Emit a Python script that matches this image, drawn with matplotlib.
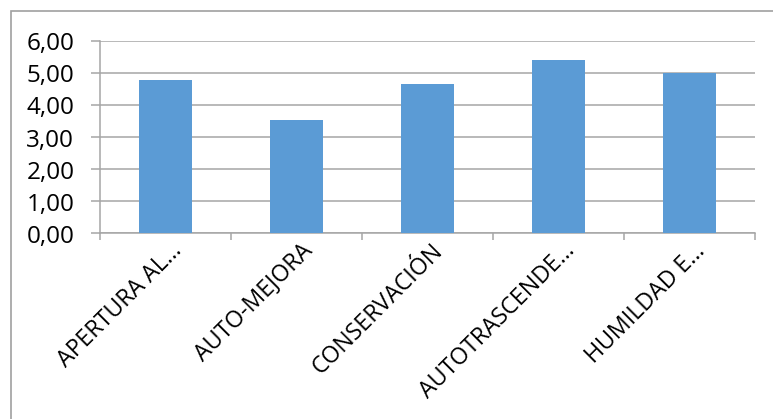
import matplotlib
matplotlib.use("Agg")
import matplotlib.pyplot as plt
from matplotlib.patches import Rectangle
from matplotlib.ticker import FuncFormatter, MultipleLocator
from matplotlib.transforms import ScaledTranslation

categories = ["APERTURA AL…", "AUTO-MEJORA", "CONSERVACIÓN", "AUTOTRASCENDE…", "HUMILDAD E…"]
values = [4.79, 3.55, 4.67, 5.41, 5.02]

plt.rcParams['font.family'] = ['Open Sans', 'DejaVu Sans']

W, H = 773, 419
fig = plt.figure(figsize=(W/100, H/100), dpi=100)
ax = fig.add_axes([100/W, 1-233.5/H, 655/W, 192/H])

grid_c = "#A6A6A6"
lw = 1.1
x = list(range(len(categories)))
ax.bar(x, values, width=0.4, color="#5B9BD5", zorder=3)
ax.set_xlim(-0.5, len(categories)-0.5)
ax.set_ylim(0, 6)
ax.yaxis.set_major_locator(MultipleLocator(1))
ax.yaxis.set_major_formatter(FuncFormatter(lambda v, p: f"{v:.2f}".replace(".", ",")))
ax.grid(axis='y', color=grid_c, linewidth=lw, zorder=0)
for s in ["top", "right"]:
    ax.spines[s].set_visible(False)
for s in ["left", "bottom"]:
    ax.spines[s].set_color(grid_c)
    ax.spines[s].set_linewidth(lw)

ax.set_xticks([i - 0.5 for i in range(len(categories)+1)], minor=False)
ax.set_xticklabels([])
ax.tick_params(axis='x', which='major', length=5, width=lw, color=grid_c, direction='out')
ax.set_xticks(x, minor=True)
ax.set_xticklabels(categories, minor=True, rotation=45, ha='right', va='top',
                   rotation_mode='anchor', fontsize=16.7)
ax.tick_params(axis='x', which='minor', length=0, pad=4)
offset = ScaledTranslation(0.04, 0, fig.dpi_scale_trans)
for lab in ax.get_xticklabels(minor=True):
    lab.set_transform(lab.get_transform() + offset)
ax.tick_params(axis='y', length=6.5, width=lw, color=grid_c, labelsize=17.5, pad=12)

fig.add_artist(Rectangle((10.5/W, -0.1), 1.2, 0.1 + 1 - 11.5/H, transform=fig.transFigure,
                         fill=False, edgecolor="#A0A0A0", linewidth=1.2, clip_on=False))

fig.savefig("out.png", dpi=100, facecolor="white")
